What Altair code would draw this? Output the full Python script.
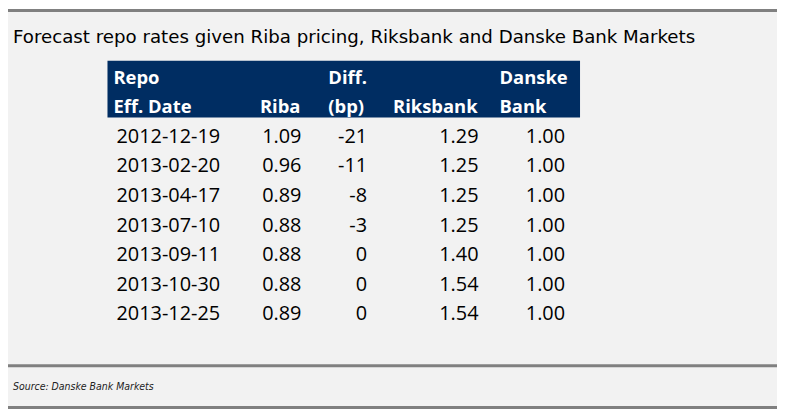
import altair as alt
import pandas as pd

title_text = "Forecast repo rates given Riba pricing, Riksbank and Danske Bank Markets"
source_text = "Source: Danske Bank Markets"

dates = ["2012-12-19", "2013-02-20", "2013-04-17", "2013-07-10",
         "2013-09-11", "2013-10-30", "2013-12-25"]
riba = [1.09, 0.96, 0.89, 0.88, 0.88, 0.88, 0.89]
diff_bp = [-21, -11, -8, -3, 0, 0, 0]
riksbank = [1.29, 1.25, 1.25, 1.25, 1.40, 1.54, 1.54]
danske = [1.00, 1.00, 1.00, 1.00, 1.00, 1.00, 1.00]

header_top = ["Repo", "", "Diff.", "", "Danske"]
header_bottom = ["Eff. Date", "Riba", "(bp)", "Riksbank", "Bank"]

df = pd.DataFrame({
    "date": dates,
    "riba": riba,
    "diff": diff_bp,
    "riksbank": riksbank,
    "danske": danske,
})

W, H = 774, 402
NAVY = "#002d62"
LINE = "#808080"
TFONT = "Open Sans"

one = pd.DataFrame({"a": [0]})
base_one = alt.Chart(one)

bg = base_one.mark_rect(color="#f2f2f2").encode(
    x=alt.value(0), x2=alt.value(773), y=alt.value(0), y2=alt.value(401))

rule_top = base_one.mark_rect(color=LINE).encode(
    x=alt.value(0), x2=alt.value(773), y=alt.value(0), y2=alt.value(3))
rule_mid = base_one.mark_rect(color=LINE).encode(
    x=alt.value(0), x2=alt.value(773), y=alt.value(357), y2=alt.value(360))
rule_bot = base_one.mark_rect(color=LINE).encode(
    x=alt.value(0), x2=alt.value(773), y=alt.value(399), y2=alt.value(402))

title = alt.Chart(pd.DataFrame({"t": [title_text]})).mark_text(
    align="left", baseline="alphabetic", font="DejaVu Sans",
    fontSize=18.3, color="#000000").encode(
    x=alt.value(5), y=alt.value(34), text="t:N")

source = alt.Chart(pd.DataFrame({"t": [source_text]})).mark_text(
    align="left", baseline="alphabetic", font="DejaVu Sans Condensed",
    fontStyle="italic", fontSize=10.5, color="#222222").encode(
    x=alt.value(5), y=alt.value(383), text="t:N")

header_box = base_one.mark_rect(color=NAVY).encode(
    x=alt.value(100), x2=alt.value(575), y=alt.value(52), y2=alt.value(109))


def header_text(i, xpos, align):
    d = pd.DataFrame({"top": [header_top[i]], "bottom": [header_bottom[i]]})
    c = alt.Chart(d)
    layers = []
    if header_top[i]:
        layers.append(c.mark_text(align=align, baseline="alphabetic", font=TFONT,
                                  fontWeight="bold", fontSize=18.5, color="white").encode(
            x=alt.value(xpos), y=alt.value(75), text="top:N"))
    layers.append(c.mark_text(align=align, baseline="alphabetic", font=TFONT,
                              fontWeight="bold", fontSize=18.5, color="white").encode(
        x=alt.value(xpos), y=alt.value(104), text="bottom:N"))
    return layers


headers = []
headers += header_text(0, 106, "left")
headers += header_text(1, 294, "right")
headers += header_text(2, 322, "left")
headers += header_text(3, 472, "right")
headers += header_text(4, 494, "left")

yenc = alt.Y("date:N", scale=alt.Scale(type="point", domain=dates,
                                       range=[128.5, 307], padding=0), axis=None)

base = alt.Chart(df).transform_calculate(
    diff_s="toString(datum.diff)")


def col(field, xpos, align, fmt=None):
    text = alt.Text(f"{field}:Q", format=fmt) if fmt else alt.Text(f"{field}:N")
    return base.mark_text(align=align, baseline="middle", font=TFONT,
                          fontSize=20, color="#000000").encode(
        x=alt.value(xpos), y=yenc, text=text)


cols = [
    col("date", 109, "left"),
    col("riba", 295, "right", ".2f"),
    col("diff_s", 361, "right"),
    col("riksbank", 473, "right", ".2f"),
    col("danske", 560, "right", ".2f"),
]

chart = alt.layer(bg, rule_top, rule_mid, rule_bot, title, source, header_box,
                  *headers, *cols).properties(
    width=W, height=H, padding=0, autosize=alt.AutoSizeParams(type="none"),
    background="white",
).configure_view(stroke=None)

chart.save("out.html", embed_options={"renderer": "svg", "actions": False})
